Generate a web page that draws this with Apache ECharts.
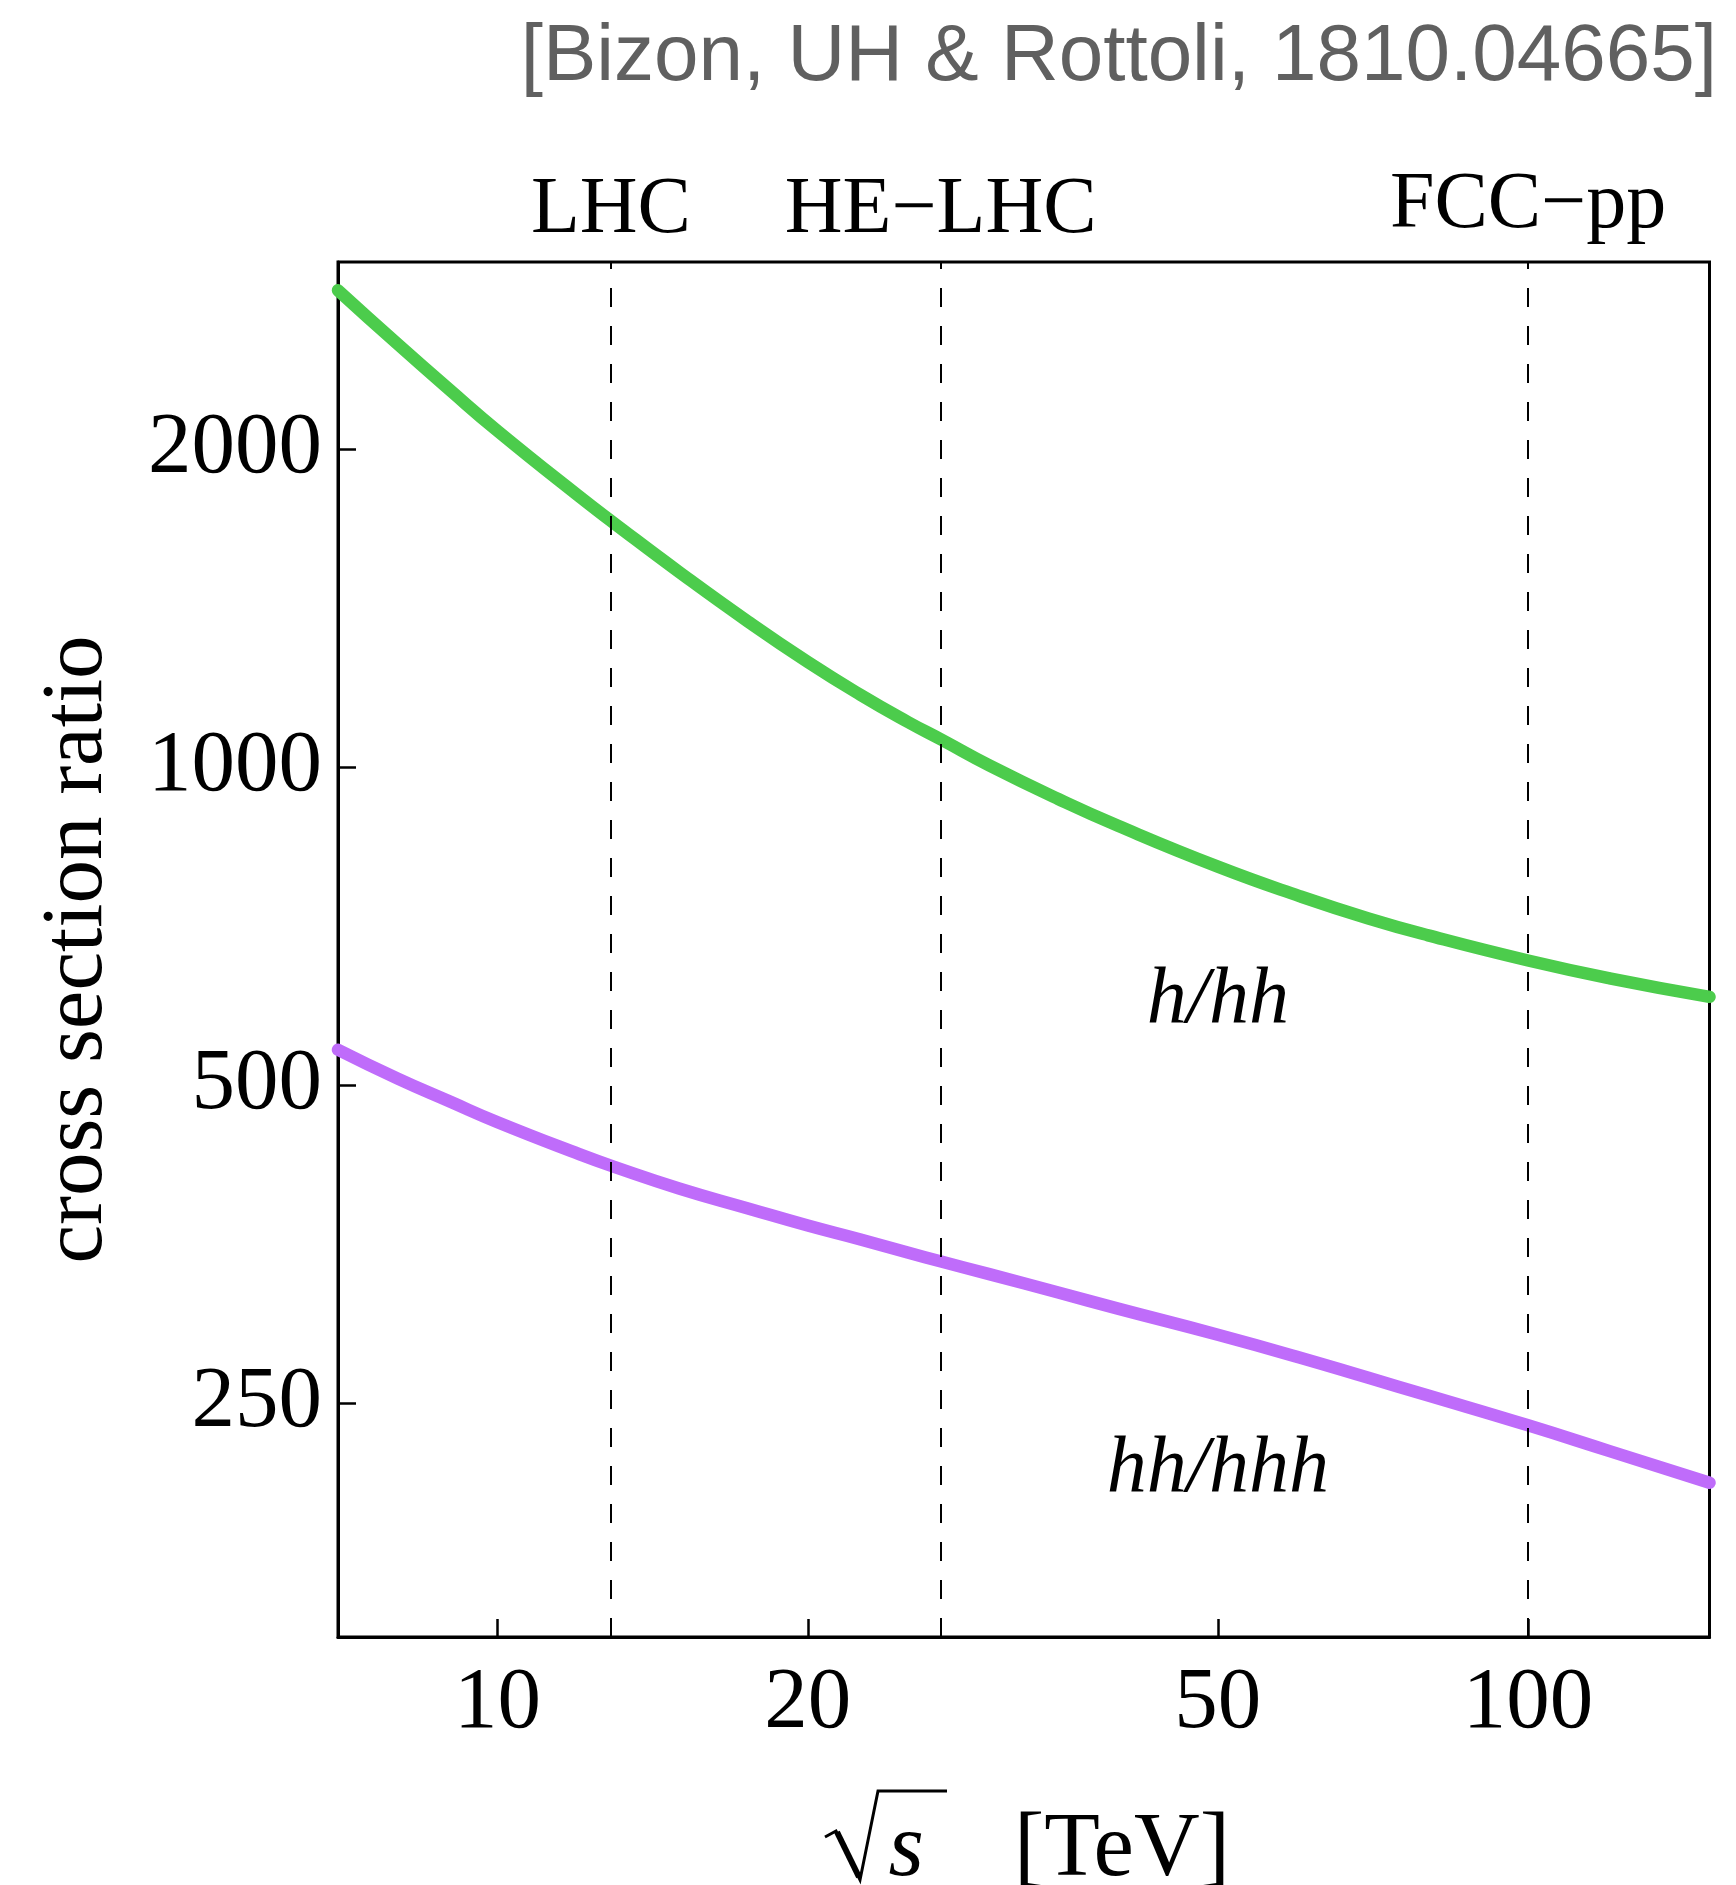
<!DOCTYPE html>
<html><head><meta charset="utf-8">
<script src="https://cdn.jsdelivr.net/npm/echarts@6/dist/echarts.min.js"></script>
<style>html,body{margin:0;padding:0;background:#fff}#c{width:1736px;height:1885px}</style>
</head><body><div id="c"></div>
<script>
// ---- data ----
const energies = [7, 8, 9, 10, 12, 13, 15, 17.5, 20, 22.5, 25, 27, 30, 35, 40, 50, 60, 70, 80, 100, 120, 150];
const ratioHoverHH = [2830, 2516, 2274, 2082, 1805, 1700, 1531, 1374, 1258, 1171, 1104, 1061, 1004, 933, 880, 805, 755, 719, 693, 656, 631, 606];
const ratioHHoverHHH = [540, 507, 482, 461, 430, 418, 399, 382, 368, 357, 347, 340, 331, 318, 307, 290, 276, 264, 254, 238, 225, 210];
const xTicks = [10, 20, 50, 100];
const yTicks = [250, 500, 1000, 2000];
const xRange = [7, 150];
const yRange = [150, 3010];
const colliderNames = ['LHC', 'HE\u2212LHC', 'FCC\u2212pp'];
const colliderEnergies = [13, 27, 100];
const curveLabelTexts = ['h/hh', 'hh/hhh'];
const curveLabelEnergies = [50, 50];
const curveLabelRatios = [600, 216];
const sourceText = '[Bizon, UH & Rottoli, 1810.04665]';

const L = Math.log10;
const fmt = v => String(Math.round(Math.pow(10, v)));
const serif = 'Liberation Serif';

const chart = echarts.init(document.getElementById('c'), null, {renderer: 'canvas'});
const option = {
  animation: false,
  backgroundColor: '#fff',
  title: {
    text: sourceText, right: 19, top: 18, padding: 0,
    textStyle: {fontFamily: 'Liberation Sans', fontSize: 80, fontWeight: 'normal', color: '#606060'}
  },
  grid: {left: 338, top: 262, width: 1371.5, height: 1375, show: true, borderColor: '#000', borderWidth: 3,
         containLabel: false, outerBoundsMode: 'none'},
  xAxis: {
    type: 'value', min: L(xRange[0]), max: L(xRange[1]),
    axisLine: {show: true, onZero: false, lineStyle: {color: '#000', width: 3}},
    axisTick: {show: true, inside: true, length: 18, lineStyle: {color: '#000', width: 2.5}, customValues: xTicks.map(L)},
    axisLabel: {show: true, margin: 24, color: '#000', fontFamily: serif, fontSize: 87, customValues: xTicks.map(L), formatter: fmt},
    splitLine: {show: false},
    name: '{s|s}{u|[TeV]}',
    nameLocation: 'middle', nameGap: 169,
    nameTextStyle: {fontFamily: serif, fontSize: 91, color: '#000', padding: [0, 0, 0, 71],
      rich: {s: {fontFamily: serif, fontSize: 91, fontStyle: 'italic', color: '#000'},
             u: {fontFamily: serif, fontSize: 91, color: '#000', padding: [0, 0, 0, 90]}}}
  },
  yAxis: {
    type: 'value', min: L(yRange[0]), max: L(yRange[1]),
    axisLine: {show: true, onZero: false, lineStyle: {color: '#000', width: 3}},
    axisTick: {show: true, inside: true, length: 18, lineStyle: {color: '#000', width: 2.5}, customValues: yTicks.map(L)},
    axisLabel: {show: true, margin: 16, color: '#000', fontFamily: serif, fontSize: 87, customValues: yTicks.map(L), formatter: fmt},
    splitLine: {show: false},
    name: 'cross section ratio', nameLocation: 'middle', nameGap: 216,
    nameTextStyle: {fontFamily: serif, fontSize: 87, color: '#000'}
  },
  series: [
    {
      name: 'h/hh', type: 'line', smooth: true, showSymbol: false, symbol: 'none',
      lineStyle: {color: '#4ccc4c', width: 12.5, cap: 'round', join: 'round'},
      data: energies.map((e, i) => [L(e), L(ratioHoverHH[i])]),
      markLine: {
        silent: true, symbol: ['none', 'none'], animation: false,
        lineStyle: {color: '#000', width: 2, type: [19, 19]},
        label: {show: true, position: 'end', formatter: '{b}', color: '#000', fontFamily: serif, fontSize: 80, distance: 11},
        data: colliderNames.map((n, i) => ({name: n, xAxis: L(colliderEnergies[i]),
          label: i === 2 ? {distance: 16} : {}}))
      }
    },
    {
      name: 'hh/hhh', type: 'line', smooth: true, showSymbol: false, symbol: 'none',
      lineStyle: {color: '#bf6cfa', width: 12.5, cap: 'round', join: 'round'},
      data: energies.map((e, i) => [L(e), L(ratioHHoverHHH[i])]),
      markPoint: {
        silent: true, animation: false, symbol: 'circle', symbolSize: 0,
        label: {show: true, position: 'inside', formatter: '{b}', color: '#000', fontFamily: serif, fontStyle: 'italic', fontSize: 80},
        data: curveLabelTexts.map((t, i) => ({name: t, coord: [L(curveLabelEnergies[i]), L(curveLabelRatios[i])]}))
      }
    }
  ],
  graphic: [
    {type: 'polyline', shape: {points: [[825, 1837], [836, 1831], [860, 1880], [878, 1791], [947, 1791]]},
     style: {stroke: '#000', lineWidth: 3, fill: null, lineJoin: 'miter'}},
    {type: 'line', shape: {x1: 837, y1: 1832, x2: 859, y2: 1877}, style: {stroke: '#000', lineWidth: 6}}
  ]
};
chart.setOption(option);
</script>
</body></html>
